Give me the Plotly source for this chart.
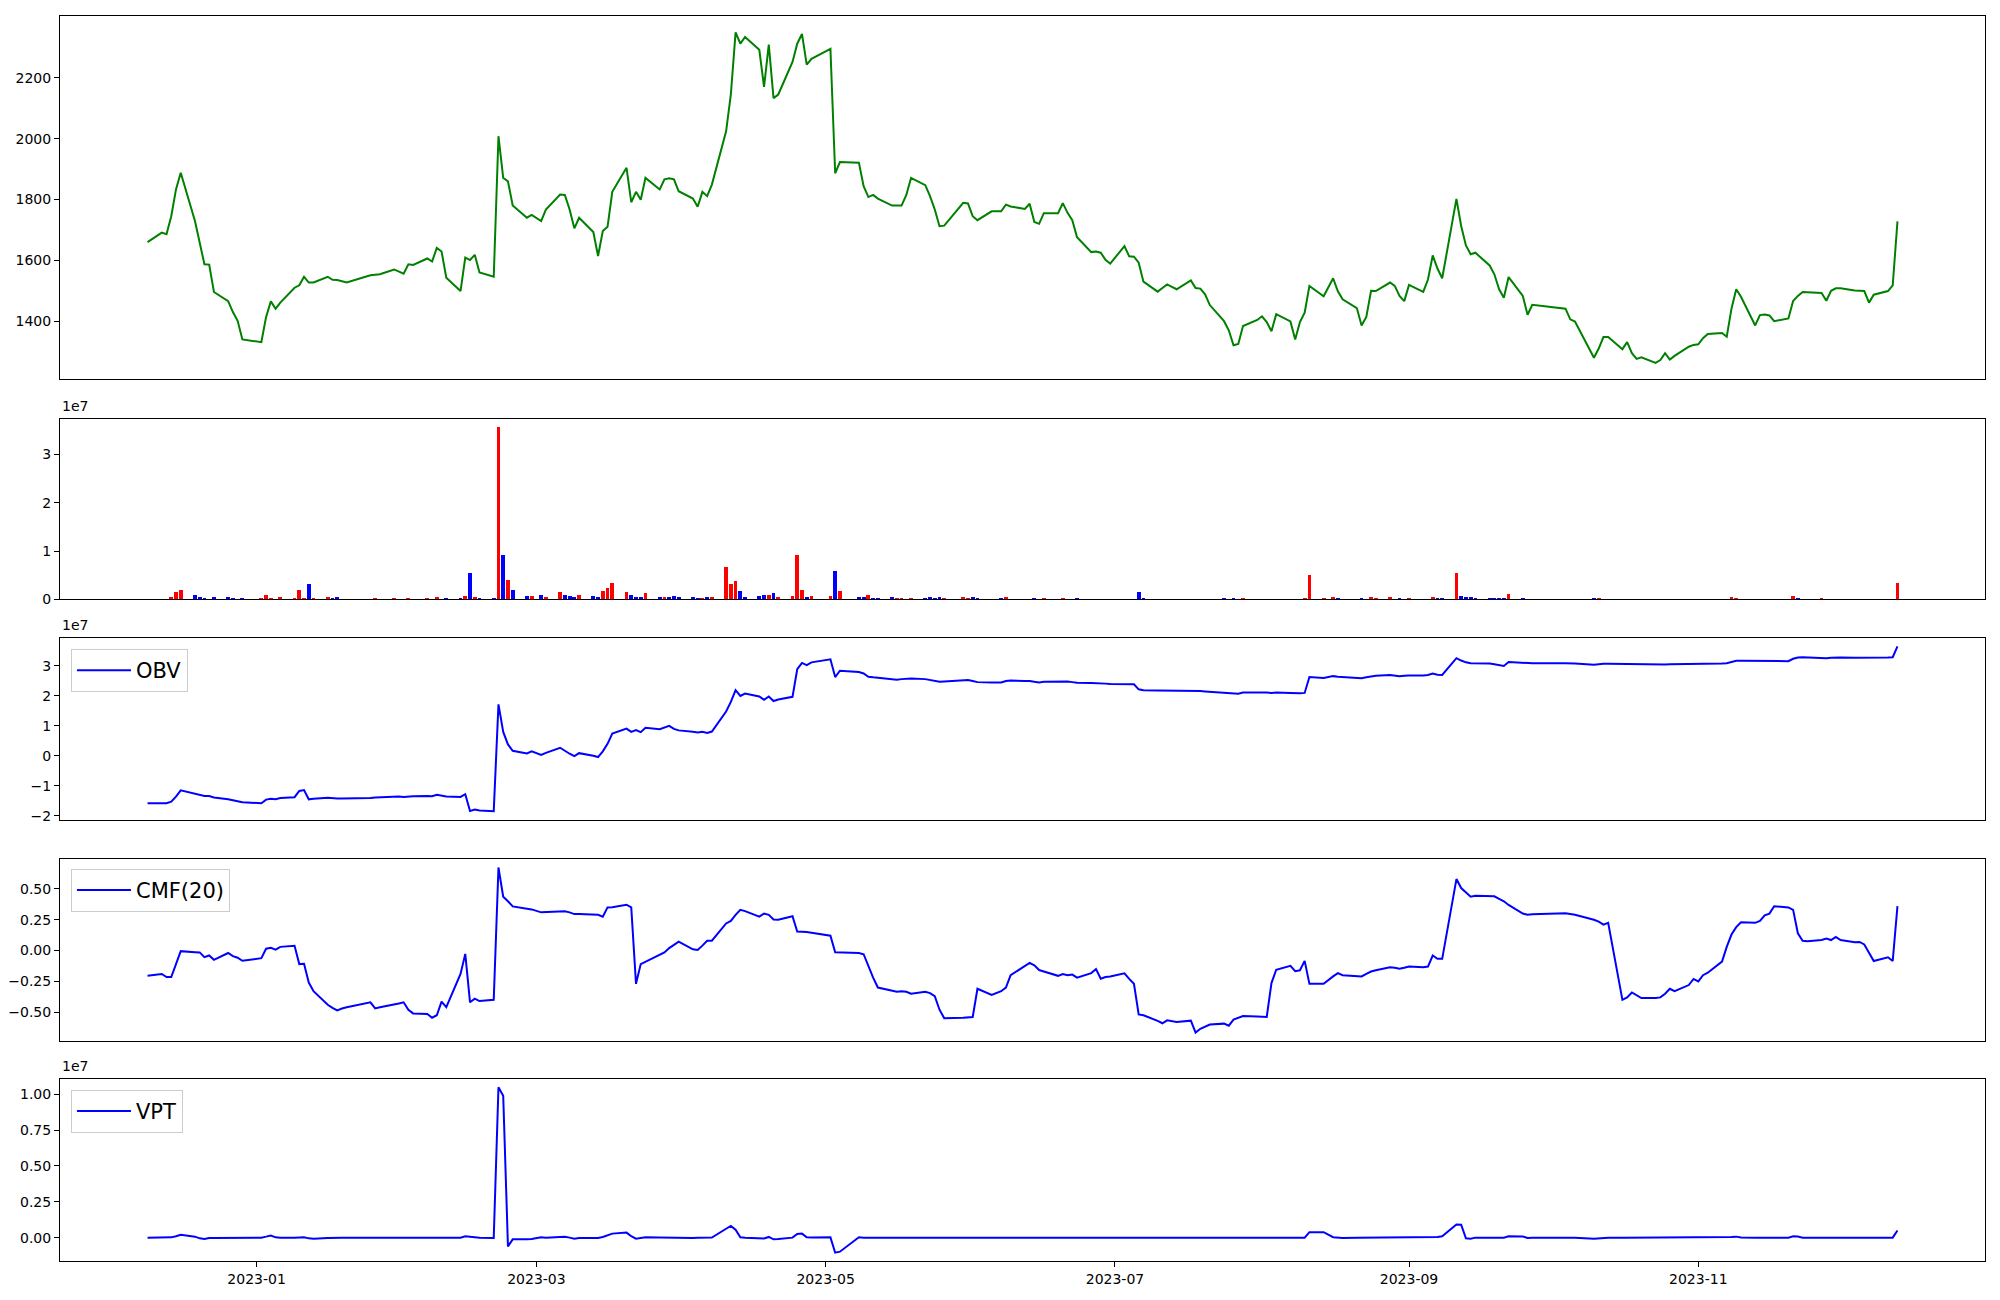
import pandas as pd
import plotly.graph_objects as go

# KRX trading calendar for the period shown
holidays = ["2022-12-30", "2023-01-23", "2023-01-24", "2023-03-01", "2023-05-01",
            "2023-05-05", "2023-05-29", "2023-06-06", "2023-08-15", "2023-09-28",
            "2023-09-29", "2023-10-02", "2023-10-03", "2023-10-09"]
dates = pd.bdate_range("2022-12-09", "2023-12-13", freq="C", holidays=holidays)

# closing price, month by month
close = (
    [1660, 1691, 1686, 1745, 1833, 1888, 1729, 1658, 1587, 1586, 1496, 1466, 1430, 1401, 1340]
    + [1331, 1414, 1465, 1441, 1461, 1510, 1518, 1546, 1527, 1527, 1546, 1536, 1535, 1531, 1527,
       1551, 1553, 1554, 1570, 1562]
    + [1556, 1587, 1585, 1606, 1596, 1641, 1629, 1543, 1499, 1609, 1601, 1618, 1560, 1546, 2008,
       1871, 1860, 1780, 1740, 1749]
    + [1729, 1767, 1816, 1815, 1767, 1705, 1740, 1693, 1614, 1696, 1710, 1825, 1904, 1791, 1825,
       1799, 1871, 1833, 1866, 1870, 1866, 1827]
    + [1803, 1776, 1825, 1811, 1849, 2024, 2145, 2349, 2312, 2334, 2292, 2170, 2309, 2133, 2145,
       2252, 2312, 2344, 2243, 2262]
    + [2295, 1886, 1923, 1921, 1844, 1808, 1815, 1803, 1780, 1780, 1780, 1815, 1871, 1847, 1811,
       1767, 1712, 1714, 1789, 1787]
    + [1745, 1732, 1761, 1761, 1783, 1777, 1769, 1786, 1726, 1720, 1755, 1755, 1788, 1756, 1732,
       1676, 1627, 1629, 1625, 1602, 1589]
    + [1647, 1613, 1612, 1592, 1530, 1497, 1509, 1521, 1513, 1505, 1534, 1509, 1507, 1488, 1453,
       1400, 1370, 1321, 1325, 1384, 1404]
    + [1416, 1397, 1367, 1423, 1399, 1340, 1397, 1428, 1516, 1482, 1541, 1498, 1472, 1443, 1386,
       1414, 1500, 1499, 1527, 1516, 1483, 1466]
    + [1519, 1496, 1537, 1616, 1573, 1541, 1802, 1713, 1649, 1620, 1625, 1583, 1554, 1505, 1477,
       1545, 1483, 1421, 1454]
    + [1441, 1406, 1399, 1280, 1310, 1348, 1348, 1308, 1331, 1295, 1276, 1281, 1263, 1272, 1295,
       1274, 1286, 1316, 1322]
    + [1324, 1344, 1358, 1361, 1349, 1441, 1505, 1480, 1386, 1420, 1422, 1419, 1400, 1409, 1466,
       1483, 1496, 1495, 1493, 1467, 1500, 1508]
    + [1508, 1501, 1499, 1499, 1461, 1487, 1499, 1518, 1728]
)

# volume in millions of shares
volume_m = (
    [0, 0, 0, 0.5, 1.7, 2.1, 1.1, 0.5, 0.3, 0, 0.5, 0.7, 0.3, 0, 0.3]
    + [0.3, 1.1, 0.3, 0, 0.5, 0.3, 2.1, 0.3, 3.2, 0.3, 0.5, 0.3, 0.5, 0, 0, 0, 0.3, 0, 0.3, 0]
    + [0, 0.3, 0, 0.3, 0, 0.5, 0, 0.3, 0.3, 0.9, 5.6, 0.5, 0.3, 0.3, 35.7, 9.3, 4.2, 2.1, 0.9, 0.9]
    + [1.1, 0.7, 1.7, 1.1, 0.9, 0.7, 1.1, 0.9, 0.5, 1.9, 2.5, 3.4, 1.7, 1.1, 0.5, 0.7, 1.5, 0.5,
       0.5, 0.7, 0.9, 0.5]
    + [0.5, 0.3, 0.3, 0.5, 0.5, 6.7, 3.2, 4.0, 1.9, 0.7, 0.9, 1.1, 1.1, 1.5, 0.5, 0.9, 9.2, 2.1,
       0.7, 0.9]
    + [0.9, 5.9, 1.9, 0.5, 0.7, 1.1, 0.3, 0.3, 0.5, 0.3, 0.3, 0, 0.3, 0.3, 0.5, 0.3, 0.5, 0.3, 0.5, 0.3]
    + [0.5, 0.3, 0, 0.3, 0.7, 0, 0, 0, 0.3, 0, 0.3, 0, 0.3, 0, 0, 0.3, 0, 0, 0, 0, 0]
    + [0, 0, 0, 1.7, 0.3, 0, 0, 0, 0, 0, 0, 0, 0, 0, 0, 0.3, 0, 0.3, 0, 0.3, 0]
    + [0, 0, 0, 0, 0, 0, 0, 0.3, 5.2, 0.3, 0.7, 0.3, 0, 0, 0.3, 0, 0.5, 0.3, 0.5, 0, 0.3, 0]
    + [0.3, 0, 0, 0.7, 0.3, 0.3, 5.6, 0.9, 0.5, 0.5, 0.3, 0.3, 0.3, 0.3, 0.3, 1.3, 0.3, 0, 0]
    + [0, 0, 0, 0.3, 0.3, 0, 0, 0, 0, 0, 0, 0, 0, 0, 0, 0, 0, 0, 0]
    + [0, 0, 0, 0, 0, 0.5, 0.3, 0, 0, 0, 0, 0, 0, 0, 0.9, 0.3, 0, 0, 0.3, 0, 0, 0]
    + [0, 0, 0, 0, 0, 0, 0, 0, 3.4]
)

# bar colour per day: R = up candle, B = down candle
volume_side = ("RRBRRRBBBBBBBBB" "RRRRRRRRBRRBBBBRRRRB" "RRRRBRBBBRBRBBRBRBBR"
               "BRRBBBRBBRRRRBBBRBRBBB" "BBRBRRRRBBBBRBRRRRBR" "RBRBBRBBBRRRRBBBBRRR"
               "BBBBRRRRBBRRRBBBBBBBB" "RBBBBBRRBBRBBBBBBBRRR" "RBBRBBRRRRRBBBBRRRRBBB"
               "RBRRBBRBBBBBBBBRBBR" "BBBBRRRBRBBRBRRBRRR" "RRRRBRRBBRRBBRRBRBRRRR"
               "RBBBBRRRR")

# on-balance volume, units of 1e7
obv_e7 = (
    [-1.58, -1.58, -1.58, -1.53, -1.36, -1.15, -1.26, -1.31, -1.34, -1.34, -1.39, -1.45, -1.48,
     -1.52, -1.55]
    + [-1.58, -1.46, -1.43, -1.45, -1.41, -1.38, -1.17, -1.14, -1.45, -1.43, -1.40, -1.42, -1.42,
       -1.42, -1.42, -1.41, -1.39, -1.38, -1.37, -1.36]
    + [-1.37, -1.35, -1.35, -1.34, -1.35, -1.30, -1.33, -1.36, -1.37, -1.28, -1.84, -1.79, -1.82,
       -1.85, 1.72, 0.80, 0.38, 0.17, 0.08, 0.15]
    + [0.03, 0.10, 0.27, 0.16, 0.07, -0.01, 0.09, 0.00, -0.04, 0.15, 0.40, 0.74, 0.91, 0.80, 0.86,
       0.79, 0.94, 0.89, 0.94, 1.00, 0.90, 0.85]
    + [0.80, 0.78, 0.80, 0.76, 0.81, 1.48, 1.80, 2.19, 2.00, 2.08, 1.98, 1.87, 1.98, 1.83, 1.88,
       1.97, 2.89, 3.10, 3.03, 3.12]
    + [3.22, 2.63, 2.84, 2.80, 2.75, 2.64, 2.62, 2.60, 2.56, 2.54, 2.56, 2.58, 2.58, 2.56, 2.53,
       2.50, 2.47, 2.48, 2.52, 2.53]
    + [2.50, 2.46, 2.45, 2.45, 2.50, 2.51, 2.50, 2.50, 2.47, 2.45, 2.47, 2.48, 2.50, 2.48, 2.46,
       2.44, 2.43, 2.43, 2.42, 2.41, 2.40]
    + [2.39, 2.39, 2.39, 2.22, 2.19, 2.18, 2.18, 2.17, 2.17, 2.17, 2.17, 2.16, 2.16, 2.15, 2.14,
       2.12, 2.11, 2.08, 2.07, 2.11, 2.12]
    + [2.12, 2.11, 2.10, 2.11, 2.10, 2.09, 2.09, 2.10, 2.63, 2.60, 2.66, 2.64, 2.63, 2.61, 2.59,
       2.62, 2.64, 2.67, 2.70, 2.68, 2.66, 2.67]
    + [2.68, 2.68, 2.70, 2.75, 2.71, 2.70, 3.26, 3.18, 3.12, 3.09, 3.09, 3.08, 3.06, 3.03, 3.00,
       3.13, 3.11, 3.10, 3.09]
    + [3.09, 3.09, 3.08, 3.04, 3.06, 3.07, 3.07, 3.06, 3.06, 3.06, 3.05, 3.05, 3.05, 3.05, 3.05,
       3.06, 3.06, 3.07, 3.07]
    + [3.07, 3.07, 3.08, 3.08, 3.09, 3.13, 3.17, 3.17, 3.16, 3.16, 3.17, 3.17, 3.17, 3.16, 3.24,
       3.28, 3.29, 3.28, 3.27, 3.26, 3.27, 3.28]
    + [3.28, 3.27, 3.27, 3.26, 3.26, 3.27, 3.28, 3.29, 3.65]
)

# Chaikin money flow, 20 days
cmf20 = (
    [-0.205, -0.19, -0.215, -0.215, -0.11, -0.005, -0.013, -0.015, -0.054, -0.04, -0.075, -0.02,
     -0.045, -0.058, -0.083]
    + [-0.062, 0.015, 0.022, 0.008, 0.03, 0.038, -0.11, -0.108, -0.26, -0.33, -0.44, -0.465,
       -0.485, -0.47, -0.46, -0.42, -0.47, -0.46, -0.44, -0.43]
    + [-0.42, -0.48, -0.51, -0.515, -0.545, -0.525, -0.415, -0.46, -0.19, -0.027, -0.42, -0.39,
       -0.41, -0.40, 0.674, 0.437, 0.40, 0.358, 0.34, 0.334]
    + [0.31, 0.312, 0.316, 0.318, 0.31, 0.296, 0.296, 0.296, 0.29, 0.275, 0.35, 0.352, 0.372,
       0.35, -0.27, -0.11, -0.09, -0.035, -0.015, 0.02, 0.045, 0.073]
    + [0.01, 0.005, 0.04, 0.08, 0.08, 0.22, 0.24, 0.29, 0.33, 0.32, 0.275, 0.30, 0.29, 0.252,
       0.25, 0.278, 0.154, 0.154, 0.15, 0.145]
    + [0.121, -0.013, -0.015, -0.02, -0.03, -0.13, -0.22, -0.30, -0.323, -0.335, -0.33, -0.334,
       -0.35, -0.334, -0.345, -0.37, -0.48, -0.55, -0.545, -0.541]
    + [-0.539, -0.31, -0.36, -0.33, -0.30, -0.20, -0.13, -0.10, -0.12, -0.158, -0.17, -0.205,
       -0.19, -0.20, -0.195, -0.22, -0.183, -0.15, -0.229, -0.215, -0.21]
    + [-0.185, -0.23, -0.27, -0.518, -0.525, -0.57, -0.59, -0.566, -0.57, -0.58, -0.569, -0.666,
       -0.635, -0.62, -0.60, -0.593, -0.61, -0.56, -0.545, -0.531, -0.535]
    + [-0.538, -0.539, -0.264, -0.156, -0.124, -0.167, -0.16, -0.084, -0.27, -0.27, -0.21,
       -0.183, -0.2, -0.21, -0.21, -0.19, -0.17, -0.16, -0.135, -0.14, -0.148, -0.14]
    + [-0.129, -0.135, -0.13, -0.04, -0.067, -0.067, 0.58, 0.507, 0.47, 0.437, 0.445, 0.437,
       0.44, 0.42, 0.40, 0.37, 0.30, 0.29, 0.295]
    + [0.302, 0.295, 0.29, 0.25, 0.235, 0.21, 0.225, -0.40, -0.38, -0.34, -0.36, -0.385, -0.385,
       -0.38, -0.35, -0.31, -0.33, -0.28, -0.23]
    + [-0.25, -0.20, -0.18, -0.09, 0.03, 0.13, 0.19, 0.23, 0.225, 0.24, 0.285, 0.30, 0.36, 0.35,
       0.33, 0.14, 0.08, 0.075, 0.086, 0.097, 0.085, 0.11]
    + [0.085, 0.067, 0.07, 0.05, -0.02, -0.085, -0.055, -0.085, 0.36]
)

# volume price trend, units of 1e6
vpt_m = (
    [0, 0, 0, 0.02, 0.10, 0.2, 0.07, -0.05, -0.09, -0.03, -0.03, -0.02, -0.02, -0.01, -0.01]
    + [0, 0.07, 0.15, 0.02, 0, 0, 0.02, 0.02, -0.05, -0.07, -0.02, 0, 0, 0, 0, 0, 0, 0, 0, 0]
    + [0, 0, 0, 0, 0, 0.01, 0, -0.02, -0.01, 0.09, 0.03, 0.02, -0.01, -0.02, 10.5, 9.9, -0.61,
       -0.12, -0.12, -0.10]
    + [0.02, 0, 0.05, 0.06, 0, -0.07, -0.02, 0, -0.03, 0.05, 0.15, 0.28, 0.35, 0.10, -0.07, 0,
       0.02, 0.01, 0, 0, -0.02, -0.03]
    + [-0.02, -0.01, 0.01, 0, 0.01, 0.62, 0.82, 0.55, 0.03, 0, -0.03, -0.06, 0.05, -0.12, -0.1,
       0, 0.26, 0.28, 0.03, 0.01]
    + [0.02, -1.05, -0.98, 0.03, 0, -0.01, 0, 0, 0, 0, 0, 0.01, 0.02, 0, -0.01, -0.01, -0.02, 0,
       0.01, 0]
    + [0, 0, 0, 0, 0.01, 0, 0, 0, -0.01, 0, 0, 0, 0, 0, 0, -0.01, 0, 0, 0, 0, 0]
    + [0, 0, 0, -0.02, -0.02, 0, 0, 0, 0, 0, 0, 0, 0, 0, 0, 0, 0, 0, 0, 0, 0]
    + [0, 0, 0, 0, 0, 0, 0, 0, 0.38, 0.38, 0.03, -0.02, -0.02, 0, 0, 0, 0.02, 0.02, 0, 0, 0, 0]
    + [0, 0, 0, 0.03, 0.05, 0.1, 0.92, 0.90, -0.05, -0.07, 0, 0, 0, 0, 0, 0.1, 0.08, -0.02, 0]
    + [0, 0, 0, -0.07, -0.03, 0, 0, 0, 0, 0, 0, 0, 0, 0, 0, 0, 0, 0, 0]
    + [0, 0, 0, 0, 0, 0.05, 0.07, 0.01, 0, 0, 0, 0, 0, 0, 0.1, 0.08, 0, 0, 0, 0, 0, 0]
    + [0, 0, 0, 0, 0, 0, 0, 0, 0.5]
)

x_ticks = ["2023-01-01", "2023-03-01", "2023-05-01", "2023-07-01", "2023-09-01", "2023-11-01"]
x_labels = ["2023-01", "2023-03", "2023-05", "2023-07", "2023-09", "2023-11"]

FONT = "DejaVu Sans"
bar_colors = ["red" if s == "R" else "blue" for s in volume_side]

fig = go.Figure()
fig.add_trace(go.Scatter(x=dates, y=close, mode="lines", line=dict(color="green", width=2),
                         xaxis="x", yaxis="y", showlegend=False))
fig.add_trace(go.Bar(x=dates, y=[v * 1e6 for v in volume_m], marker=dict(color=bar_colors, line=dict(width=0)),
                     width=0.8 * 86400000, xaxis="x2", yaxis="y2", showlegend=False))
fig.add_trace(go.Scatter(x=dates, y=[v * 1e7 for v in obv_e7], mode="lines", name="OBV",
                         line=dict(color="blue", width=2), xaxis="x3", yaxis="y3", legend="legend"))
fig.add_trace(go.Scatter(x=dates, y=cmf20, mode="lines", name="CMF(20)",
                         line=dict(color="blue", width=2), xaxis="x4", yaxis="y4", legend="legend2"))
fig.add_trace(go.Scatter(x=dates, y=[v * 1e6 for v in vpt_m], mode="lines", name="VPT",
                         line=dict(color="blue", width=2), xaxis="x5", yaxis="y5", legend="legend3"))

x_range = ["2022-11-20 13:00", "2023-12-31 11:00"]
axis_common = dict(showline=True, mirror=True, linecolor="black", linewidth=1, showgrid=False,
                   zeroline=False, ticks="outside", ticklen=5, tickwidth=1, tickcolor="black",
                   automargin=False,
                   tickfont=dict(family=FONT, size=14, color="black"))

# panel domains (paper fractions), tall price panel on top
domains = [(0.7082, 1.0), (0.5314, 0.6767), (0.3540, 0.5001), (0.1768, 0.3227), (0.0, 0.1463)]

# page body has an 8px margin, so the figure is 16px smaller than the window
layout = dict(
    width=1984, height=1284,
    margin=dict(l=52, r=7, t=8, b=31),
    paper_bgcolor="white", plot_bgcolor="white",
    font=dict(family=FONT, color="black"),
    bargap=0,
)
for i in range(5):
    xa = "xaxis" if i == 0 else f"xaxis{i + 1}"
    ya = "yaxis" if i == 0 else f"yaxis{i + 1}"
    anchor_y = "y" if i == 0 else f"y{i + 1}"
    anchor_x = "x" if i == 0 else f"x{i + 1}"
    xdict = dict(axis_common, domain=[0, 1], anchor=anchor_y, range=x_range, type="date")
    if i < 4:
        xdict.update(showticklabels=False, ticks="")
    else:
        xdict.update(tickvals=x_ticks, ticktext=x_labels)
    if i > 0:
        xdict["matches"] = "x"
    layout[xa] = xdict
    layout[ya] = dict(axis_common, domain=list(domains[i]), anchor=anchor_x)

layout["yaxis"].update(range=[1209, 2403], tickvals=[1400, 1600, 1800, 2000, 2200])
layout["yaxis2"].update(range=[0, 3.74e7], tickvals=[0, 1e7, 2e7, 3e7], ticktext=["0", "1", "2", "3"])
layout["yaxis3"].update(range=[-2.15e7, 3.92e7], tickvals=[-2e7, -1e7, 0, 1e7, 2e7, 3e7],
                        ticktext=["\u22122", "\u22121", "0", "1", "2", "3"])
layout["yaxis4"].update(range=[-0.733, 0.741], tickvals=[-0.5, -0.25, 0, 0.25, 0.5],
                        ticktext=["\u22120.50", "\u22120.25", "0.00", "0.25", "0.50"])
layout["yaxis5"].update(range=[-1.63e6, 1.108e7], tickvals=[0, 2.5e6, 5e6, 7.5e6, 1e7],
                        ticktext=["0.00", "0.25", "0.50", "0.75", "1.00"])

legend_style = dict(x=0.0057, xanchor="left", yanchor="top", bgcolor="rgba(255,255,255,0.8)",
                    bordercolor="#cccccc", borderwidth=1, itemwidth=54,
                    font=dict(family=FONT, size=21, color="black"))
layout["legend"] = dict(legend_style, y=0.4915)
layout["legend2"] = dict(legend_style, y=0.3149)
layout["legend3"] = dict(legend_style, y=0.1375)

# matplotlib-style offset labels above the scientific axes
annotations = []
for dom in (domains[1], domains[2], domains[4]):
    annotations.append(dict(text="1e7", xref="paper", yref="paper", x=0, y=dom[1], xanchor="left",
                            yanchor="bottom", yshift=3, showarrow=False,
                            font=dict(family=FONT, size=14, color="black")))
layout["annotations"] = annotations

fig.update_layout(layout)
fig.write_html("out.html")
